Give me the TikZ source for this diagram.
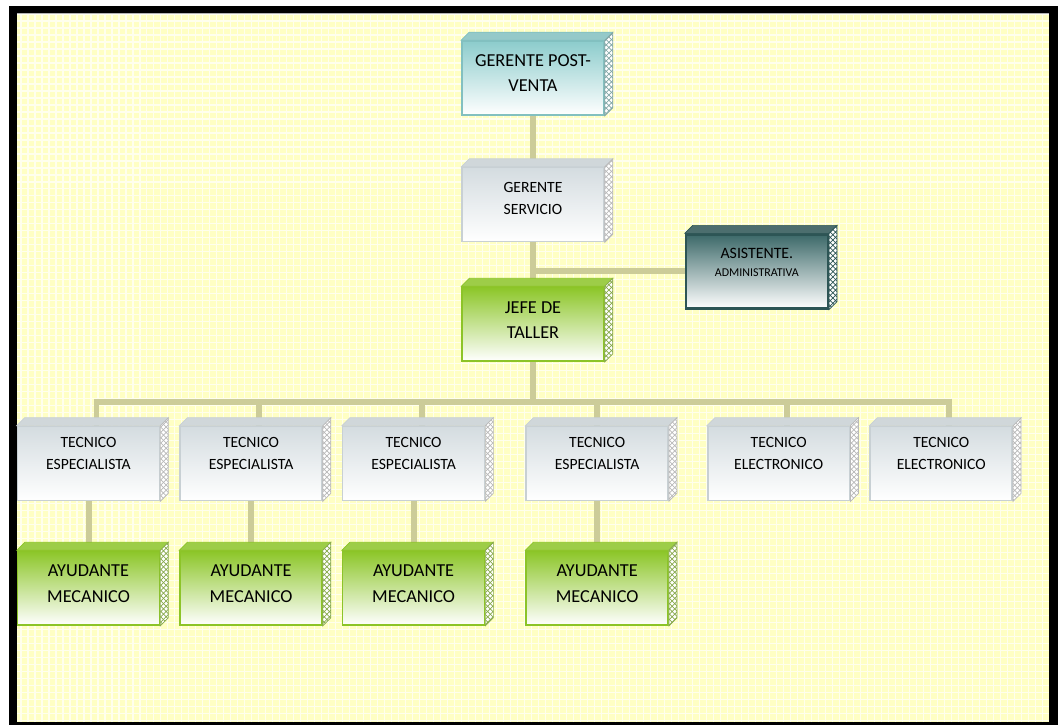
\documentclass[tikz,border=0pt]{standalone}
\usepackage{fontspec}
\setmainfont{Carlito}
\usepackage{tikz}
\usetikzlibrary{positioning,calc,patterns,backgrounds}

\definecolor{amarillo}{RGB}{255,255,196}
\definecolor{lineacol}{RGB}{204,204,153}
\definecolor{grisborde}{RGB}{200,208,212}
\definecolor{grisarriba}{RGB}{212,220,224}
\definecolor{verdeborde}{RGB}{140,196,40}
\definecolor{verdearriba}{RGB}{140,198,40}
\definecolor{celesteborde}{RGB}{130,192,192}
\definecolor{celestearriba}{RGB}{140,204,204}
\definecolor{petroleoborde}{RGB}{45,85,85}
\definecolor{petroleoarriba}{RGB}{60,105,105}

\pgfdeclarelayer{fondo}
\pgfdeclarelayer{lineas}
\pgfsetlayers{fondo,lineas,main}

\tikzset{
  caja/.style={minimum width=2.84cm, minimum height=1.48cm, inner sep=0pt, line width=0.9pt},
  gris/.style={caja, draw=grisborde, top color=grisarriba, bottom color=white},
  verde/.style={caja, draw=verdeborde, top color=verdearriba, bottom color=white},
  celeste/.style={caja, draw=celesteborde, top color=celestearriba, bottom color=white},
  petroleo/.style={caja, draw=petroleoborde, line width=1.3pt, top color=petroleoarriba, bottom color=white},
  linea/.style={draw=lineacol, line width=0.12cm},
  grande/.style={font=\fontsize{10.4}{14.7}\selectfont, align=center},
  chico/.style={font=\fontsize{8.9}{12.5}\selectfont, align=center},
}

% caras de arriba y del costado
\newcommand{\cubo}[3]{%
  \filldraw[draw=#2, fill=#2!85!white, line width=0.4pt] (#1.north west) -- ++(8,-8) -- ($(#1.north east)+(8,-8)$) -- (#1.north east) -- cycle;
  \filldraw[draw=#3, fill=white, line width=0.4pt, postaction={pattern=crosshatch, pattern color=#3}] (#1.north east) -- ++(8,-8) -- ($(#1.south east)+(8,-8)$) -- (#1.south east) -- cycle;
}

\begin{document}
\begin{tikzpicture}[x=0.02cm, y=-0.02cm]
\useasboundingbox (0,0) rectangle (1058,725);
\begin{pgfonlayer}{fondo}
\fill[black] (9,6) rectangle (1058,725);
\fill[amarillo] (17,14) rectangle (1049,722);
\draw[white, line width=0.6pt, opacity=0.7] (17,14) grid[step=0.14cm] (1049,722);
\end{pgfonlayer}

\node[celeste] (gpv) at (533,78) {};
\node[gris, below=1.02cm of gpv] (gs) {};
\node[verde, below=0.88cm of gs] (jefe) {};
\node[petroleo, below right=-0.18cm and 1.6cm of gs] (asis) {};

\node[gris] (tec1) at (88.5,463.5) {};
\node[gris, right=0.38cm of tec1] (tec2) {};
\node[gris, right=0.38cm of tec2] (tec3) {};
\node[gris, right=0.8cm of tec3] (tec4) {};
\node[gris, right=0.76cm of tec4] (tec5) {};
\node[gris, right=0.38cm of tec5] (tec6) {};

\node[verde, below=0.98cm of tec1] (ayu1) {};
\node[verde, below=0.98cm of tec2] (ayu2) {};
\node[verde, below=0.98cm of tec3] (ayu3) {};
\node[verde, below=0.98cm of tec4] (ayu4) {};

\cubo{gpv}{celesteborde}{celesteborde!60!gray}
\cubo{gs}{grisborde}{gray!55}
\cubo{jefe}{verdeborde}{verdeborde!60!gray}
\cubo{asis}{petroleoborde}{petroleoborde}
\foreach \t in {tec1,tec2,tec3,tec4,tec5,tec6} {\cubo{\t}{grisborde}{gray!55}}
\foreach \a in {ayu1,ayu2,ayu3,ayu4} {\cubo{\a}{verdeborde}{verdeborde!60!gray}}

\node[grande] (gpv-t) at ($(gpv)+(0,-5)$) {GERENTE POST-\\VENTA};
\node[chico] (gs-t) at ($(gs)+(0,-6)$) {GERENTE\\SERVICIO};
\node[grande] (jefe-t) at ($(jefe)+(0,-4)$) {JEFE DE\\TALLER};
\node[font=\fontsize{9}{10.5}\selectfont, align=center] (asis-t) at ($(asis)+(0,-9)$) {ASISTENTE.\\{\fontsize{6.8}{10.5}\selectfont ADMINISTRATIVA}};
\node[chico] (tec1-t) at ($(tec1)+(0,-10)$) {TECNICO\\ESPECIALISTA};
\node[chico] (tec2-t) at ($(tec2)+(0,-10)$) {TECNICO\\ESPECIALISTA};
\node[chico] (tec3-t) at ($(tec3)+(0,-10)$) {TECNICO\\ESPECIALISTA};
\node[chico] (tec4-t) at ($(tec4)+(0,-10)$) {TECNICO\\ESPECIALISTA};
\node[chico] (tec5-t) at ($(tec5)+(0,-10)$) {TECNICO\\ELECTRONICO};
\node[chico] (tec6-t) at ($(tec6)+(0,-10)$) {TECNICO\\ELECTRONICO};
\node[grande] (ayu1-t) at ($(ayu1)+(0,-4.5)$) {AYUDANTE\\MECANICO};
\node[grande] (ayu2-t) at ($(ayu2)+(0,-4.5)$) {AYUDANTE\\MECANICO};
\node[grande] (ayu3-t) at ($(ayu3)+(0,-4.5)$) {AYUDANTE\\MECANICO};
\node[grande] (ayu4-t) at ($(ayu4)+(0,-4.5)$) {AYUDANTE\\MECANICO};

\begin{pgfonlayer}{lineas}
\coordinate (barra) at ($(jefe.south)+(0,40)$);
\draw[linea] (gpv) -- (gs) -- (jefe) -- (barra);
\draw[linea] (asis) -| (gs);
\foreach \t in {tec1,tec2,tec3,tec5,tec6} {\draw[linea] ([xshift=0.16cm]\t.center) |- (barra);}
\draw[linea] (tec4) |- (barra);
\draw[linea] (tec1) -- (ayu1);
\draw[linea] (tec2) -- (ayu2);
\draw[linea] (tec3) -- (ayu3);
\draw[linea] (tec4) -- (ayu4);
\end{pgfonlayer}
\end{tikzpicture}
\end{document}
